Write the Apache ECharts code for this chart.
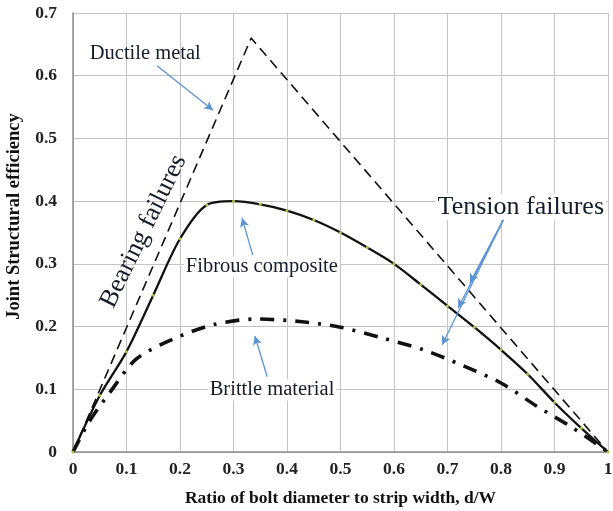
<!DOCTYPE html>
<html>
<head>
<meta charset="utf-8">
<script src="https://cdn.jsdelivr.net/npm/echarts@6/dist/echarts.min.js"></script>
<style>
  html, body { margin: 0; padding: 0; background: #fff; }
  #chart { width: 613px; height: 511px; }
</style>
</head>
<body>
<div id="chart"></div>
<script>
// values
const ductile = [[0, 0], [0.333, 0.66], [1, 0]];

const fibrousX = [0, 0.05, 0.1, 0.15, 0.2, 0.25, 0.3, 0.35, 0.4, 0.45, 0.5, 0.55, 0.6, 0.65, 0.7, 0.75, 0.8, 0.85, 0.9, 0.95, 1];
const fibrousY = [0, 0.09, 0.16, 0.25, 0.34, 0.394, 0.4, 0.395, 0.385, 0.37, 0.35, 0.326, 0.3, 0.267, 0.233, 0.199, 0.163, 0.124, 0.079, 0.038, 0];

const brittleX = [0, 0.03, 0.069, 0.118, 0.187, 0.262, 0.343, 0.424, 0.5, 0.577, 0.655, 0.728, 0.8, 0.867, 0.935, 1];
const brittleY = [0, 0.048, 0.095, 0.148, 0.18, 0.203, 0.212, 0.208, 0.199, 0.182, 0.163, 0.138, 0.11, 0.073, 0.038, 0];

// annotations in data units: [x, y, text]
const notes = [
  [0.135, 0.636, 'Ductile metal'],
  [0.353, 0.295, 'Fibrous composite'],
  [0.372, 0.099, 'Brittle material'],
  [0.837, 0.391, 'Tension failures'],
  [0.132, 0.352, 'Bearing failures']
];

// arrows: [fromX, fromY, toX, toY]
const arrows = [
  [0.157, 0.616, 0.262, 0.545],
  [0.336, 0.314, 0.316, 0.373],
  [0.363, 0.120, 0.340, 0.185],
  [0.809, 0.378, 0.742, 0.270],
  [0.809, 0.378, 0.720, 0.230],
  [0.809, 0.378, 0.690, 0.171]
];

const serif = 'Liberation Serif';
const zip = (xs, ys) => xs.map((x, i) => [x, ys[i]]);

const noteStyle = (text) => {
  const base = {
    show: true,
    position: 'inside',
    formatter: text,
    fontFamily: serif,
    color: '#161c2a',
    opacity: 1,
    fontSize: 20.5,
    backgroundColor: '#fff',
    padding: [0, 2]
  };
  if (text === 'Tension failures') {
    base.fontSize = 26;
  } else if (text === 'Bearing failures') {
    base.fontSize = 26;
    base.rotate = 64;
    base.backgroundColor = 'transparent';
  } else if (text === 'Ductile metal') {
    base.backgroundColor = 'transparent';
  }
  return base;
};

const chart = echarts.init(document.getElementById('chart'));

const option = {
  backgroundColor: '#fff',
  animation: false,
  grid: { left: 73, right: 5, top: 13, bottom: 59, outerBoundsMode: 'none' },
  xAxis: {
    type: 'value',
    min: 0,
    max: 1,
    interval: 0.1,
    name: 'Ratio of bolt diameter to strip width, d/W',
    nameLocation: 'middle',
    nameGap: 37,
    nameTextStyle: { fontFamily: serif, fontWeight: 'bold', fontSize: 17.5, color: '#111' },
    axisLine: { lineStyle: { color: '#8c8c8c', width: 1.5 } },
    axisTick: { show: false },
    axisLabel: {
      fontFamily: serif, fontWeight: 'bold', fontSize: 17.5, color: '#222', margin: 8,
      formatter: v => String(Math.round(v * 10) / 10)
    },
    splitLine: { show: true, lineStyle: { color: '#c4c4c4', width: 1 } }
  },
  yAxis: {
    type: 'value',
    min: 0,
    max: 0.7,
    interval: 0.1,
    name: 'Joint Structural efficiency',
    nameLocation: 'middle',
    nameGap: 49,
    nameTextStyle: { fontFamily: serif, fontWeight: 'bold', fontSize: 18.5, color: '#111', padding: [0, 0, 0, 32] },
    axisLine: { lineStyle: { color: '#8c8c8c', width: 1.5 } },
    axisTick: { show: false },
    axisLabel: {
      fontFamily: serif, fontWeight: 'bold', fontSize: 17.5, color: '#222', margin: 16,
      formatter: v => String(Math.round(v * 10) / 10)
    },
    splitLine: { show: true, lineStyle: { color: '#c4c4c4', width: 1 } }
  },
  series: [
    {
      name: 'Ductile metal',
      type: 'line',
      data: ductile,
      showSymbol: false,
      lineStyle: { color: '#111', width: 1.6, type: [10, 6] },
      z: 3
    },
    {
      name: 'Fibrous composite',
      type: 'line',
      data: zip(fibrousX, fibrousY),
      smooth: 0.3,
      symbol: 'circle',
      symbolSize: 3,
      itemStyle: { color: '#a9c94a', borderWidth: 0 },
      lineStyle: { color: '#111', width: 2.3 },
      z: 4
    },
    {
      name: 'Brittle material',
      type: 'line',
      data: zip(brittleX, brittleY),
      smooth: 0.3,
      showSymbol: false,
      lineStyle: { color: '#111', width: 3.6, type: [14, 9, 3, 9] },
      z: 3
    },
    {
      name: 'notes',
      type: 'scatter',
      symbolSize: 0,
      z: 6,
      itemStyle: { opacity: 1 },
      data: notes.map(n => ({ value: [n[0], n[1]], label: noteStyle(n[2]) })),
      markLine: {
        silent: true,
        symbol: ['none', 'arrow'],
        symbolSize: [7, 9],
        label: { show: false },
        lineStyle: { color: '#5b93d3', width: 1.3, type: 'solid' },
        data: arrows.map(a => [{ coord: [a[0], a[1]] }, { coord: [a[2], a[3]] }])
      }
    }
  ]
};

chart.setOption(option);
</script>
</body>
</html>
